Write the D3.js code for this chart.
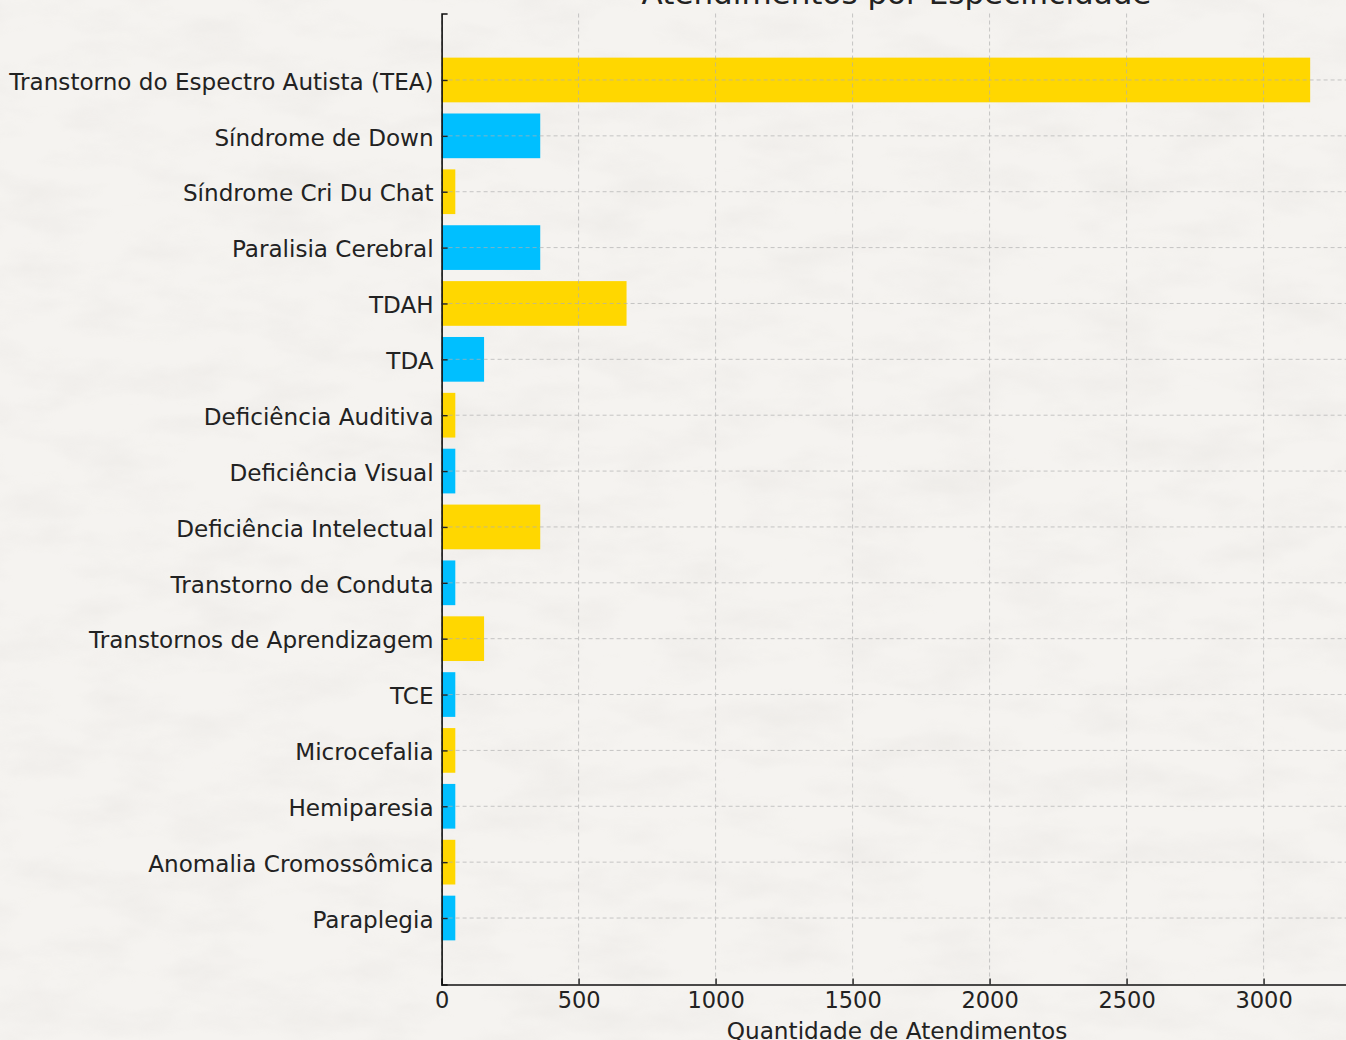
<!DOCTYPE html>
<html>
<head>
<meta charset="utf-8">
<script src="https://cdn.jsdelivr.net/npm/d3@7"></script>
<style>
    html, body { margin: 0; padding: 0; background: #f3f1ee; overflow: hidden; }
    text { font-family: "DejaVu Sans", sans-serif; }
</style>
</head>
<body>
<div id="chart"></div>
<script>
// data
const categories = [
    "Transtorno do Espectro Autista (TEA)", "Síndrome de Down", "Síndrome Cri Du Chat",
    "Paralisia Cerebral", "TDAH", "TDA", "Deficiência Auditiva", "Deficiência Visual",
    "Deficiência Intelectual", "Transtorno de Conduta", "Transtornos de Aprendizagem",
    "TCE", "Microcefalia", "Hemiparesia", "Anomalia Cromossômica", "Paraplegia"
];
const values = [3170, 360, 50, 360, 675, 155, 50, 50, 360, 50, 155, 50, 50, 50, 50, 50];
const barColors = ["#FFD700", "#00BFFF"];
const xTicks = [0, 500, 1000, 1500, 2000, 2500, 3000];

const W = 1346, H = 1040;
const margin = {left: 441.6, top: 13.5, right: 1353.6, bottom: 984.5};

const svg = d3.select("#chart").append("svg")
    .attr("width", W)
    .attr("height", H);

// paper-ish background
const defs = svg.append("defs");
const f = defs.append("filter").attr("id", "paper").attr("x", 0).attr("y", 0).attr("width", "100%").attr("height", "100%");
f.append("feTurbulence").attr("type", "fractalNoise").attr("baseFrequency", "0.012 0.03").attr("numOctaves", 4).attr("seed", 3).attr("result", "noise");
f.append("feColorMatrix").attr("type", "matrix")
    .attr("values", "0 0 0 0 0.55  0 0 0 0 0.53  0 0 0 0 0.50  0 0 0 -1.6 0.95");
svg.append("rect").attr("width", W).attr("height", H).attr("fill", "#f5f3f0");
svg.append("rect").attr("width", W).attr("height", H).attr("filter", "url(#paper)").attr("opacity", 0.15);

// scales, matplotlib style margins
const n = categories.length;
const x = d3.scaleLinear()
    .domain([0, d3.max(values) * 1.05])
    .range([margin.left, margin.right]);
const y = d3.scaleLinear()
    .domain([-0.4 - 0.79, n - 1 + 0.4 + 0.79])
    .range([margin.top, margin.bottom]);
const band = y(0.8) - y(0);

// bars
svg.append("g").selectAll("rect")
    .data(values)
    .enter()
    .append("rect")
    .attr("x", x(0))
    .attr("y", (d, i) => y(i - 0.4))
    .attr("width", d => x(d) - x(0))
    .attr("height", band)
    .attr("fill", (d, i) => barColors[i % 2]);

// grid (drawn over the bars like the original)
const grid = svg.append("g").attr("stroke", "#b0b0b0").attr("stroke-width", 1)
    .attr("stroke-dasharray", "4,3").attr("opacity", 0.7);
grid.selectAll(".vg").data(xTicks).enter().append("line")
    .attr("x1", d => x(d)).attr("x2", d => x(d))
    .attr("y1", margin.top).attr("y2", margin.bottom);
grid.selectAll(".hg").data(categories).enter().append("line")
    .attr("x1", margin.left).attr("x2", margin.right)
    .attr("y1", (d, i) => y(i)).attr("y2", (d, i) => y(i));

// axes, ticks pointing inwards
const xAxis = d3.axisBottom(x).tickValues(xTicks).tickSize(-6).tickPadding(5).tickFormat(d3.format("d"));
const gx = svg.append("g")
    .attr("transform", "translate(0," + margin.bottom + ")")
    .call(xAxis);
gx.select(".domain").attr("stroke", "#111").attr("stroke-width", 1.6);
gx.selectAll(".tick line").attr("stroke", "#222").attr("stroke-width", 1.4);
gx.selectAll(".tick text").attr("font-size", 22.5).attr("fill", "#222").attr("dy", "0.8em")
    .attr("font-family", "DejaVu Sans");

const yAxis = d3.axisLeft(y).tickValues(d3.range(n)).tickFormat(i => categories[i]).tickSize(-6).tickPadding(8);
const gy = svg.append("g")
    .attr("transform", "translate(" + margin.left + ",0)")
    .call(yAxis);
gy.select(".domain").attr("stroke", "#111").attr("stroke-width", 1.6);
gy.selectAll(".tick line").attr("stroke", "#222").attr("stroke-width", 1.4);
gy.selectAll(".tick text").attr("font-size", 23.1).attr("fill", "#222").attr("dy", "0.4em")
    .attr("font-family", "DejaVu Sans");

// title and axis label (cut off by the frame, like the reference)
svg.append("text")
    .attr("x", 896.5)
    .attr("y", 4)
    .attr("text-anchor", "middle")
    .attr("font-size", 31)
    .attr("fill", "#222")
    .text("Atendimentos por Especificidade");

svg.append("text")
    .attr("x", 897)
    .attr("y", 1039)
    .attr("text-anchor", "middle")
    .attr("font-size", 23.2)
    .attr("fill", "#222")
    .text("Quantidade de Atendimentos");
</script>
</body>
</html>
